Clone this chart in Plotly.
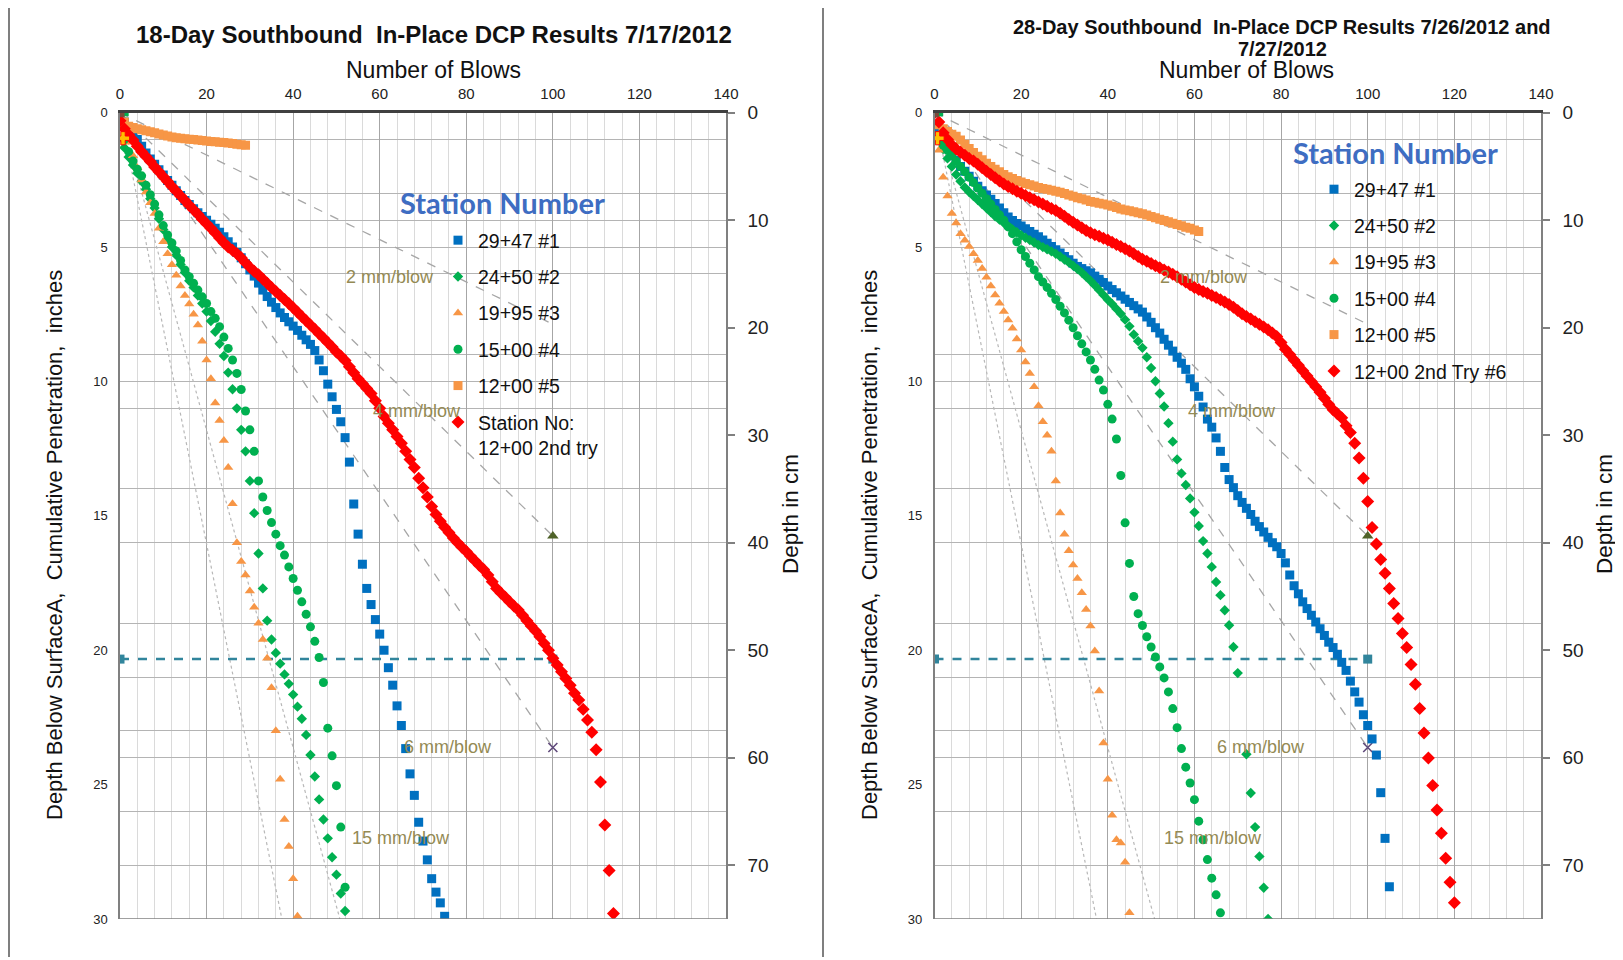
import plotly.graph_objects as go

W, H = 1623, 960
OX, OY = 8, 8   # page offset of the plot inside the browser window
FONT = "Liberation Sans, Arial, sans-serif"

# ---------------- data ----------------
BLOW_TICKS = [0, 20, 40, 60, 80, 100, 120, 140]
IN_TICKS = [0, 5, 10, 15, 20, 25, 30]
CM_TICKS = [0, 10, 20, 30, 40, 50, 60, 70]
H_GRID_IN = [1, 3, 4, 5, 6, 9, 10, 11, 14, 16, 19, 21, 23, 24, 26, 28]

SERIES_NAMES_L = ["29+47 #1", "24+50 #2", "19+95 #3", "15+00 #4", "12+00 #5",
                  "Station No:<br>12+00 2nd try"]
SERIES_NAMES_R = ["29+47 #1", "24+50 #2", "19+95 #3", "15+00 #4", "12+00 #5",
                  "12+00 2nd Try #6"]

# ---- 18-day (left) : cumulative penetration (in) per blow, starting at blow 0
L_BLUE = [0.0, 0.35, 0.6, 0.8, 1.0, 1.25, 1.5, 1.72, 1.92, 2.12, 2.32, 2.52, 2.7, 2.9, 3.08,
          3.27, 3.42, 3.57, 3.72, 3.86, 4.0, 4.15, 4.3, 4.45, 4.62, 4.8, 5.0, 5.2, 5.4, 5.62,
          5.85, 6.08, 6.34, 6.6, 6.84, 7.05, 7.25, 7.45, 7.62, 7.78, 7.94, 8.1, 8.28, 8.45,
          8.62, 8.85, 9.2, 9.6, 10.1, 10.57, 11.04, 11.5, 12.09, 13.0, 14.56, 15.68, 16.8,
          17.7, 18.3, 18.86, 19.4, 20.0, 20.65, 21.3, 22.07, 22.8, 23.66, 24.6, 25.4, 26.4,
          27.1, 27.8, 28.5, 29.0, 29.4, 29.9]
L_GDIA = [0.0, 1.3, 1.65, 1.95, 2.25, 2.55, 2.85, 3.2, 3.55, 3.95, 4.35, 4.7, 5.0, 5.3, 5.65,
          5.95, 6.25, 6.5, 6.8, 7.1, 7.4, 7.75, 8.15, 8.6, 9.05, 9.67, 10.29, 11.0, 11.8, 12.6,
          13.7, 14.9, 16.4, 17.7, 18.9, 19.6, 20.1, 20.5, 20.9, 21.25, 21.65, 22.1, 22.55,
          23.15, 23.9, 24.7, 25.55, 26.3, 27.0, 27.7, 28.35, 29.05, 29.7]
L_OTRI = [0.0, 0.6, 1.1, 1.6, 2.05, 2.5, 2.95, 3.35, 3.75, 4.3, 4.8, 5.25, 5.66, 6.05, 6.45,
          6.8, 7.12, 7.5, 7.9, 8.5, 9.2, 9.9, 10.8, 11.45, 12.2, 13.2, 14.55, 16.0, 16.7, 17.2,
          17.8, 18.4, 19.0, 19.6, 20.3, 21.4, 23.0, 24.8, 26.3, 27.3, 28.5, 29.9]
L_GCIRC = [0.0, 1.0, 1.45, 1.8, 2.1, 2.35, 2.7, 3.05, 3.4, 3.8, 4.2, 4.55, 4.85, 5.15, 5.5,
           5.85, 6.1, 6.35, 6.6, 6.85, 7.1, 7.4, 7.65, 7.96, 8.35, 8.77, 9.2, 9.7, 10.3, 11.1,
           11.8, 12.6, 13.7, 14.3, 14.8, 15.25, 15.68, 16.11, 16.46, 16.9, 17.33, 17.77, 18.2,
           18.66, 19.13, 19.67, 20.27, 21.2, 22.9, 23.93, 25.04, 26.58, 28.82]
L_OSQ = [0.0, 0.35, 0.5, 0.55, 0.6, 0.63, 0.67, 0.71, 0.75, 0.79, 0.83, 0.87, 0.9, 0.93, 0.95,
         0.97, 0.99, 1.0, 1.02, 1.03, 1.05, 1.07, 1.08, 1.1, 1.11, 1.13, 1.15, 1.17, 1.19, 1.21]
L_RED = [0.3, 0.6, 0.82, 1.02, 1.25, 1.45, 1.63, 1.82, 2.02, 2.2, 2.38, 2.56, 2.75, 2.92, 3.1,
         3.27, 3.44, 3.61, 3.78, 3.96, 4.13, 4.3, 4.48, 4.66, 4.84, 5.0, 5.12, 5.25, 5.4, 5.58,
         5.75, 5.9, 6.03, 6.19, 6.35, 6.5, 6.65, 6.8, 6.95, 7.1, 7.26, 7.42, 7.58, 7.74, 7.9,
         8.06, 8.22, 8.38, 8.55, 8.72, 8.9, 9.05, 9.22, 9.45, 9.68, 9.9, 10.08, 10.26, 10.45,
         10.72, 11.0, 11.3, 11.55, 11.8, 12.05, 12.3, 12.6, 12.9, 13.2, 13.6, 13.95, 14.3,
         14.65, 14.95, 15.2, 15.42, 15.62, 15.82, 16.0, 16.17, 16.33, 16.5, 16.67, 16.84, 17.0,
         17.2, 17.45, 17.7, 17.87, 18.03, 18.2, 18.35, 18.5, 18.7, 18.9, 19.1, 19.28, 19.5,
         19.75, 20.0, 20.3, 20.55, 20.8, 21.05, 21.3, 21.6, 21.85, 22.2, 22.6, 23.05, 23.7,
         24.9, 26.5, 28.2, 29.8]

# ---- 28-day (right)
R_BLUE = [0.0, 0.6, 1.05, 1.3, 1.55, 1.78, 2.0, 2.18, 2.36, 2.55, 2.74, 2.9, 3.06, 3.22, 3.38,
          3.55, 3.72, 3.88, 4.01, 4.12, 4.22, 4.32, 4.42, 4.52, 4.62, 4.74, 4.86, 4.98, 5.1,
          5.22, 5.35, 5.47, 5.6, 5.72, 5.8, 5.88, 5.96, 6.08, 6.2, 6.32, 6.45, 6.58, 6.7, 6.82,
          6.94, 7.06, 7.18, 7.3, 7.42, 7.6, 7.8, 8.0, 8.2, 8.43, 8.65, 8.87, 9.1, 9.32, 9.55,
          9.9, 10.2, 10.55, 10.95, 11.4, 11.7, 12.1, 12.6, 13.2, 13.65, 13.95, 14.25, 14.5,
          14.72, 14.95, 15.2, 15.4, 15.6, 15.8, 16.0, 16.15, 16.4, 16.75, 17.2, 17.6, 17.9,
          18.2, 18.45, 18.7, 18.95, 19.2, 19.45, 19.7, 19.9, 20.15, 20.45, 20.75, 21.15, 21.55,
          21.93, 22.4, 22.8, 23.3, 23.9, 25.3, 27.0, 28.8]
R_GDIA = [0.0, 1.0, 1.35, 1.7, 2.0, 2.3, 2.55, 2.78, 2.95, 3.1, 3.25, 3.4, 3.55, 3.7, 3.85,
          3.98, 4.1, 4.22, 4.34, 4.45, 4.56, 4.65, 4.74, 4.83, 4.92, 5.0, 5.08, 5.16, 5.25,
          5.35, 5.46, 5.57, 5.69, 5.82, 5.95, 6.1, 6.25, 6.42, 6.6, 6.78, 6.96, 7.12, 7.3,
          7.48, 7.7, 7.95, 8.25, 8.5, 8.75, 9.1, 9.5, 9.99, 10.45, 10.93, 11.55, 12.24, 12.9,
          13.42, 13.85, 14.35, 14.87, 15.38, 15.94, 16.4, 16.9, 17.46, 17.95, 18.51, 19.07,
          19.88, 20.85, None, 23.87, 25.31, 26.58, 27.67, 28.84, 30.0]
R_OTRI = [0.0, 1.4, 2.4, 3.1, 3.75, 4.1, 4.5, 4.75, 4.98, 5.25, 5.5, 5.8, 6.12, 6.45, 6.78,
          7.09, 7.4, 7.71, 8.02, 8.42, 8.83, 9.28, 9.7, 10.2, 10.9, 11.5, 12.0, 12.6, 13.7,
          14.89, 15.68, 16.3, 16.83, 17.33, 17.86, 18.48, 19.1, 20.03, 21.52, 23.45, 24.8,
          26.14, 27.05, 27.17, 27.89, 29.77]
R_GCIRC = [0.0, 0.95, 1.2, 1.4, 1.6, 1.8, 2.0, 2.2, 2.4, 2.6, 2.8, 3.0, 3.2, 3.4, 3.6, 3.8,
           4.0, 4.25, 4.5, 4.8, 5.1, 5.35, 5.6, 5.85, 6.1, 6.3, 6.5, 6.72, 6.95, 7.2, 7.45,
           7.72, 8.0, 8.3, 8.6, 8.9, 9.2, 9.55, 9.95, 10.32, 10.85, 11.4, 12.14, 13.5, 15.26,
           16.77, 18.0, 18.64, 19.08, 19.5, 19.88, 20.25, 20.62, 21.03, 21.55, 22.17, 22.88,
           23.66, 24.35, 24.94, 25.56, 26.36, 27.05, 27.79, 28.48, 29.1, 29.77]
R_OSQ = [0.0, 0.45, 0.6, 0.7, 0.8, 0.88, 1.02, 1.17, 1.33, 1.48, 1.62, 1.75, 1.88, 2.0, 2.1,
         2.2, 2.3, 2.38, 2.45, 2.52, 2.58, 2.63, 2.68, 2.73, 2.78, 2.82, 2.85, 2.89, 2.92,
         2.96, 3.01, 3.06, 3.11, 3.16, 3.2, 3.25, 3.3, 3.33, 3.37, 3.4, 3.43, 3.48, 3.53,
         3.58, 3.62, 3.65, 3.69, 3.72, 3.76, 3.81, 3.86, 3.91, 3.96, 4.01, 4.06, 4.11, 4.16,
         4.21, 4.26, 4.3, 4.36, 4.42]
R_RED = [0.0, 0.35, 0.75, 1.0, 1.2, 1.35, 1.47, 1.58, 1.7, 1.8, 1.92, 2.05, 2.18, 2.3, 2.42,
         2.54, 2.65, 2.75, 2.83, 2.92, 3.0, 3.08, 3.16, 3.24, 3.32, 3.4, 3.48, 3.56, 3.64,
         3.74, 3.85, 3.97, 4.08, 4.18, 4.28, 4.38, 4.47, 4.54, 4.6, 4.67, 4.74, 4.82, 4.9,
         4.98, 5.06, 5.15, 5.25, 5.35, 5.45, 5.53, 5.61, 5.69, 5.77, 5.85, 5.93, 6.01, 6.1,
         6.2, 6.3, 6.4, 6.5, 6.58, 6.65, 6.72, 6.8, 6.88, 6.96, 7.04, 7.14, 7.24, 7.36, 7.48,
         7.58, 7.68, 7.78, 7.87, 7.97, 8.08, 8.2, 8.33, 8.55, 8.8, 9.0, 9.2, 9.4, 9.6, 9.8,
         10.0, 10.2, 10.4, 10.62, 10.85, 11.05, 11.2, 11.35, 11.65, 11.9, 12.3, 12.85, 13.6,
         14.47, 15.43, 16.05, 16.62, 17.14, 17.7, 18.26, 18.82, 19.38, 19.9, 20.53, 21.27,
         22.17, 23.08, 24.01, 25.03, 25.94, 26.81, 27.74, 28.63, 29.4]

# reference guide lines (blows, inches)
GUIDE_BLOWS = [0, 100]
GUIDE_2MM = [0, 7.87]
GUIDE_4MM = [0, 15.75]
GUIDE_6MM = [0, 23.62]
DOT_DEPTH = [0, 30]
DOT_20MM_BLOWS = [0, 37.4]
DOT_15MM_BLOWS = [0, 50.8]
TEAL_BLOWS = [0, 100]
TEAL_DEPTH = [20.33, 20.33]
TRI_PT = ([100], [15.75])
X_PT = ([100], [23.62])
START_SQ = ([0], [0])
START_GREEN = ([1.2], [0])
START_PLUS = ([0.7], [0.95])

RATE_LABELS = ["2 mm/blow", "4 mm/blow", "6 mm/blow", "15 mm/blow"]

# ---------------- styles ----------------
STYLES = [
    dict(symbol="square", color="#0070C0", size=9),
    dict(symbol="diamond", color="#00B050", size=8),
    dict(symbol="triangle-up", color="#F79646", size=9),
    dict(symbol="circle", color="#00B050", size=9),
    dict(symbol="square", color="#F79646", size=9),
    dict(symbol="diamond", color="#FF0000", size=10),
]
DRAW_ORDER = [0, 1, 2, 3, 4, 5]

fig = go.Figure()


def add_chart(series, names, xa, ya, ya2, legend):
    for d in (GUIDE_2MM, GUIDE_4MM, GUIDE_6MM):
        fig.add_trace(go.Scatter(x=GUIDE_BLOWS, y=d, mode="lines", xaxis=xa, yaxis=ya,
                                 line=dict(color="#A6A6A6", width=1.3, dash="dash"),
                                 showlegend=False, hoverinfo="skip"))
    for bx in (DOT_20MM_BLOWS, DOT_15MM_BLOWS):
        fig.add_trace(go.Scatter(x=bx, y=DOT_DEPTH, mode="lines", xaxis=xa, yaxis=ya,
                                 line=dict(color="#B8B8B8", width=1.2, dash="dot"),
                                 showlegend=False, hoverinfo="skip"))
    fig.add_trace(go.Scatter(x=TEAL_BLOWS, y=TEAL_DEPTH, mode="lines+markers", xaxis=xa, yaxis=ya,
                             line=dict(color="#31859C", width=2.5, dash="dash"),
                             marker=dict(symbol="square", size=9, color="#31859C"),
                             showlegend=False, hoverinfo="skip"))
    fig.add_trace(go.Scatter(x=TRI_PT[0], y=TRI_PT[1], mode="markers", xaxis=xa, yaxis=ya,
                             marker=dict(symbol="triangle-up", size=10, color="#4F6228"),
                             showlegend=False, hoverinfo="skip"))
    fig.add_trace(go.Scatter(x=X_PT[0], y=X_PT[1], mode="markers", xaxis=xa, yaxis=ya,
                             marker=dict(symbol="x-thin", size=9, line=dict(color="#604A7B", width=1.6)),
                             showlegend=False, hoverinfo="skip"))
    for i in DRAW_ORDER:
        d = series[i]
        st = STYLES[i]
        fig.add_trace(go.Scatter(
            x=list(range(len(d))), y=d, mode="markers", name=names[i],
            xaxis=xa, yaxis=ya, legend=legend, legendgroup=f"{legend}_{i}", legendrank=i + 1,
            marker=dict(symbol=st["symbol"], size=st["size"], color=st["color"], line=dict(width=0)),
        ))
    fig.add_trace(go.Scatter(x=START_GREEN[0], y=START_GREEN[1], mode="markers", xaxis=xa, yaxis=ya,
                             marker=dict(symbol="square", size=7, color="#00B050"),
                             showlegend=False, hoverinfo="skip"))
    fig.add_trace(go.Scatter(x=START_SQ[0], y=START_SQ[1], mode="markers", xaxis=xa, yaxis=ya,
                             marker=dict(symbol="square", size=9, color="#7B4A3A"),
                             showlegend=False, hoverinfo="skip"))
    fig.add_trace(go.Scatter(x=START_PLUS[0], y=START_PLUS[1], mode="markers", xaxis=xa, yaxis=ya,
                             marker=dict(symbol="cross", size=11, color="#FFC000",
                                         line=dict(color="#FF0000", width=1)),
                             showlegend=False, hoverinfo="skip"))
    fig.add_trace(go.Scatter(x=[None], y=[None], xaxis=xa, yaxis=ya2, showlegend=False,
                             hoverinfo="skip"))


add_chart([L_BLUE, L_GDIA, L_OTRI, L_GCIRC, L_OSQ, L_RED], SERIES_NAMES_L, "x", "y", "y2", "legend")
add_chart([R_BLUE, R_GDIA, R_OTRI, R_GCIRC, R_OSQ, R_RED], SERIES_NAMES_R, "x2", "y3", "y4", "legend2")


def px(x):
    return (x - OX) / W


def py(y):
    return 1 - (y - OY) / H


YD = [py(919), py(112.7)]
XL = [px(120), px(726)]
XR = [px(934.5), px(1541)]


def xax(domain, anchor):
    return dict(domain=domain, range=[0, 140], side="top", anchor=anchor,
                tickmode="array", tickvals=BLOW_TICKS, ticks="",
                tickfont=dict(size=15, color="#222222", family=FONT),
                showgrid=True, gridcolor="#A6A6A6", gridwidth=1,
                minor=dict(dtick=4, tick0=0, showgrid=True, gridcolor="#DADADA", gridwidth=1),
                showline=True, linecolor="#404040", linewidth=2.5, zeroline=False,
                ticklabelstandoff=5, fixedrange=True, automargin=False)


def yax(anchor):
    return dict(domain=YD, range=[30, 0], anchor=anchor, tickmode="array", tickvals=IN_TICKS,
                ticks="", tickfont=dict(size=13, color="#222222", family=FONT), showgrid=False,
                minor=dict(tickmode="array", tickvals=H_GRID_IN, showgrid=True,
                           gridcolor="#B4B4B4", gridwidth=1),
                showline=True, linecolor="#808080", linewidth=1.5, zeroline=False,
                ticklabelstandoff=8, fixedrange=True, automargin=False)


def yax2(over, anchor):
    return dict(overlaying=over, side="right", anchor=anchor, range=[75, 0], tickmode="array",
                tickvals=CM_TICKS, ticks="outside", ticklen=7, tickwidth=1.5, tickcolor="#808080",
                tickfont=dict(size=19, color="#222222", family=FONT), showgrid=False,
                showline=True, linecolor="#808080", linewidth=1.5, zeroline=False,
                ticklabelstandoff=9, fixedrange=True, automargin=False)


def note(text, x, y, size, **kw):
    d = dict(text=text, x=x, y=y, xref="paper", yref="paper", showarrow=False,
             xanchor="center", yanchor="middle", font=dict(size=size, family=FONT, color="#111"))
    d.update(kw)
    return d


ann = []
ann.append(note("<b>18-Day Southbound  In-Place DCP Results 7/17/2012</b>", px(434), py(35), 24))
ann.append(note("<b>28-Day Southbound  In-Place DCP Results 7/26/2012 and</b>", px(1282), py(27), 20))
ann.append(note("<b>7/27/2012</b>", px(1282), py(49), 20))
for cx in (433, 1246):
    ann.append(note("Number of Blows", px(cx), py(70), 23))
for cx in (54, 869):
    ann.append(note("Depth Below SurfaceA,  Cumulative Penetration,  inches", px(cx), py(545), 22,
                    textangle=-90))
for cx in (790, 1604):
    ann.append(note("Depth in cm", px(cx), py(514), 22.5, textangle=-90))
for cx, cy in ((503, 202), (1395, 153)):
    ann.append(note("<b>Station Number</b>", px(cx), py(cy), 29,
                    font=dict(size=29, family="Lato, Open Sans, sans-serif", color="#3E6DC2")))
LBL_POS_L = [(62.3, 6.1), (68.6, 11.1), (75.7, 23.6), (64.9, 27.0)]
LBL_POS_R = [(62.2, 6.1), (68.7, 11.1), (75.4, 23.6), (64.3, 27.0)]
for (xr, yr), pos in (("x", "y"), LBL_POS_L), (("x2", "y3"), LBL_POS_R):
    for t, (bx, dy) in zip(RATE_LABELS, pos):
        ann.append(dict(text=t, x=bx, y=dy, xref=xr, yref=yr, showarrow=False,
                        xanchor="center", yanchor="middle",
                        font=dict(size=18, family=FONT, color="#948A54")))

shapes = []
for sx in (9, 823):
    shapes.append(dict(type="line", xref="paper", yref="paper", x0=px(sx), x1=px(sx),
                       y0=py(957), y1=1.0, line=dict(color="#7F7F7F", width=2)))
for xr, yr in (("x", "y"), ("x2", "y3")):
    shapes.append(dict(type="line", xref=xr, yref=yr, x0=0, x1=140, y0=30, y1=30,
                       line=dict(color="#808080", width=1.5)))

legend_common = dict(xanchor="left", yanchor="top", bgcolor="rgba(0,0,0,0)",
                     font=dict(size=19.5, family=FONT, color="#111"), tracegroupgap=8,
                     valign="top", itemclick=False, itemdoubleclick=False)

fig.update_layout(
    template="none",
    width=W, height=H, margin=dict(l=0, r=0, t=0, b=0, pad=0, autoexpand=False),
    paper_bgcolor="white", plot_bgcolor="white",
    font=dict(family=FONT, color="#111"),
    xaxis=xax(XL, "y"), yaxis=yax("x"), yaxis2=yax2("y", "x"),
    xaxis2=xax(XR, "y3"), yaxis3=yax("x2"), yaxis4=yax2("y3", "x2"),
    legend=dict(x=px(438), y=py(221), **legend_common),
    legend2=dict(x=px(1314), y=py(170), **legend_common),
    annotations=ann, shapes=shapes, showlegend=True, hovermode=False,
)

fig.write_html("out.html")
